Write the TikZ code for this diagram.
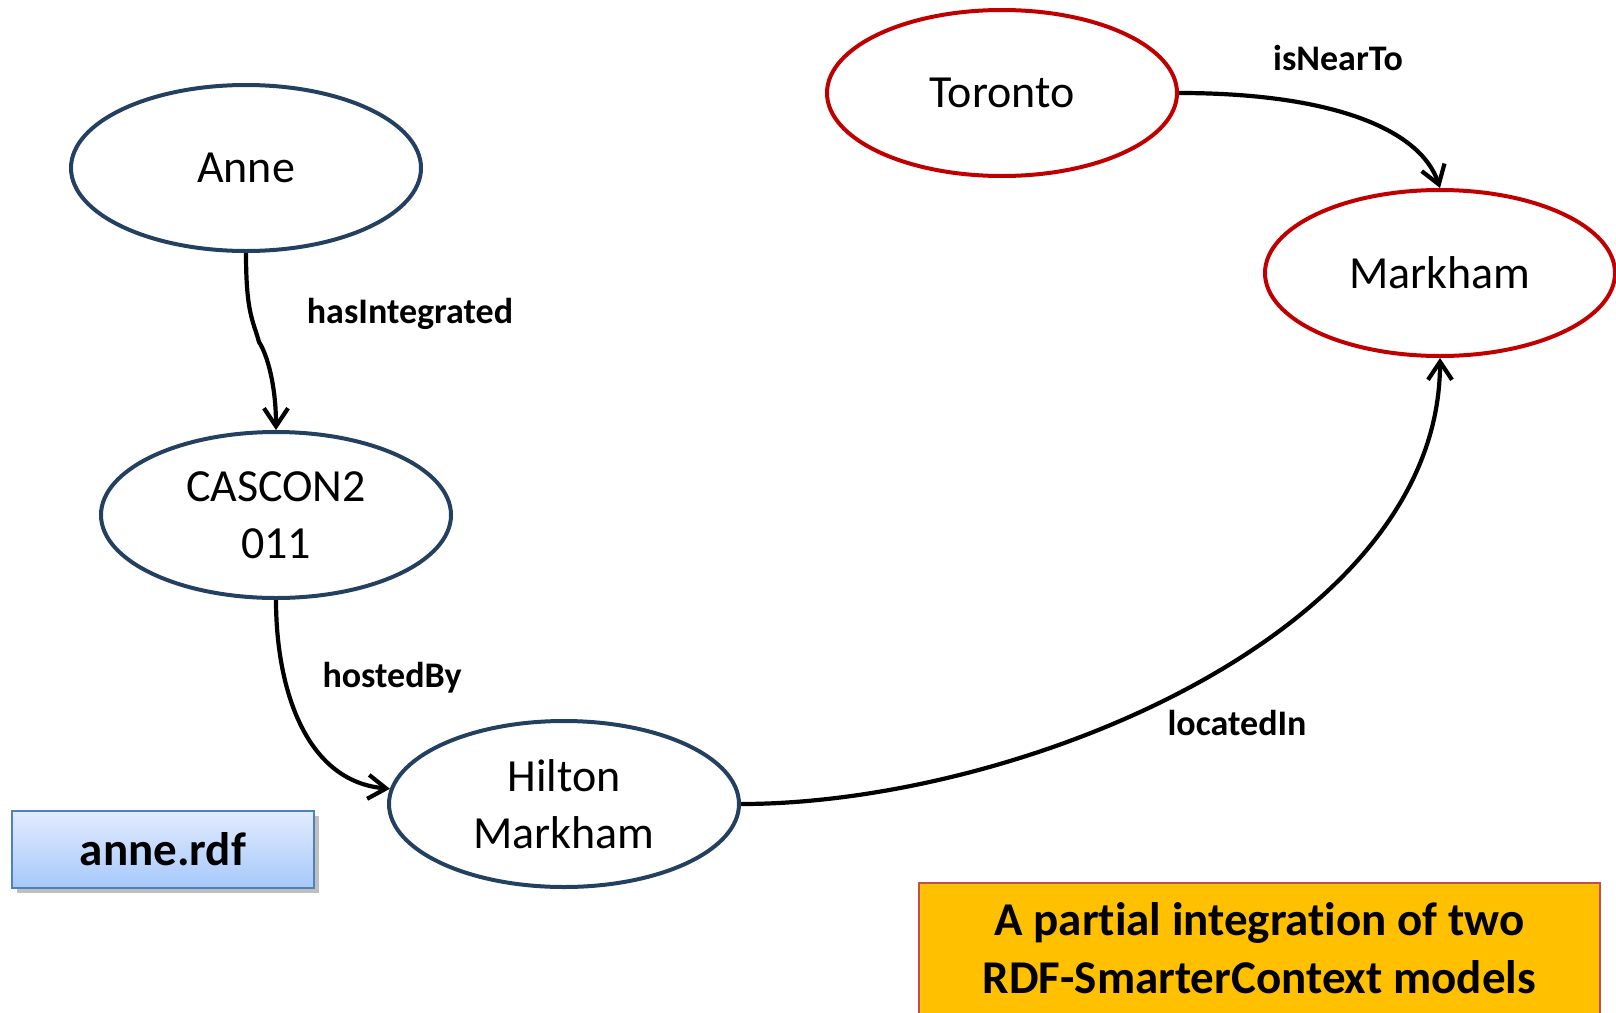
\documentclass[tikz,border=0pt]{standalone}
\usepackage{fontspec}
\setmainfont[Ligatures=NoCommon]{Carlito}
\usetikzlibrary{%
    arrows.meta,
    positioning,
    shapes.geometric,
    shadows
}
\definecolor{navyline}{RGB}{36,64,97}
\definecolor{redline}{RGB}{192,0,0}
\definecolor{notefill}{RGB}{255,192,0}
\definecolor{noteedge}{RGB}{192,80,77}
\definecolor{fileedge}{RGB}{79,129,189}
\tikzset{headarrow/.style = {-{Straight Barb[length=9pt,width=12pt]}, line width=2.1pt}}
\tikzset{resource/.style = {ellipse, draw=navyline, line width=2pt, minimum width=175pt,
    minimum height=83pt, inner sep=2pt, align=center, font=\fontsize{23}{28.5}\selectfont}}
\tikzset{place/.style = {resource, draw=redline}}
\tikzset{prop/.style = {font=\fontsize{18}{22}\selectfont\bfseries}}

\begin{document}
\begin{tikzpicture}[x=0.5pt, y=-0.5pt]
    \useasboundingbox (0,0) rectangle (1616,1012);

    \node[resource] (anne)    at (246,168) {Anne};
    \node[resource] (cascon)  at (276,515) {CASCON2\\011};
    \node[resource] (hilton)  at (564,804) {Hilton\\Markham};
    \node[place]    (toronto) at (1002,93) {Toronto};
    \node[place]    (markham) at (1440,273) {Markham};

    \coordinate (kink) at (259,342);
    \draw[headarrow] (anne.south) .. controls +(0,60) and +(-6,-22) .. (kink)
        .. controls +(8,12) and +(0,-45) .. (cascon.north);
    \draw[headarrow] (cascon) to [out=-90, in=175] (hilton);
    \draw[headarrow] (hilton) to [out=0, in=-90, looseness=0.85] (markham);
    \draw[headarrow] (toronto.east) .. controls +(150,0) and +(-20,-60) .. (markham.north);

    \node[prop] (l-has)     at (410,314) {hasIntegrated};
    \node[prop] (l-hosted)  at (392,678) {hostedBy};
    \node[prop] (l-located) at (1237,723) {locatedIn};
    \node[prop] (l-near)    at (1338,58) {isNearTo};

    \node[draw=fileedge, line width=1pt, top color={rgb,255:red,226;green,235;blue,255},
        bottom color={rgb,255:red,166;green,201;blue,250}, drop shadow,
        minimum width=151pt, minimum height=38.5pt,
        font=\fontsize{23.5}{28}\selectfont\bfseries] (anne-rdf) at (163,849.5) {anne.rdf};

    \node[draw=noteedge, fill=notefill, line width=1pt, anchor=north, align=center,
        minimum width=340.5pt, inner ysep=10pt,
        font=\fontsize{23.5}{29}\selectfont\bfseries] (note) at (1259.5,882)
        {A partial integration of two\\RDF-SmarterContext models\strut};
\end{tikzpicture}
\end{document}
